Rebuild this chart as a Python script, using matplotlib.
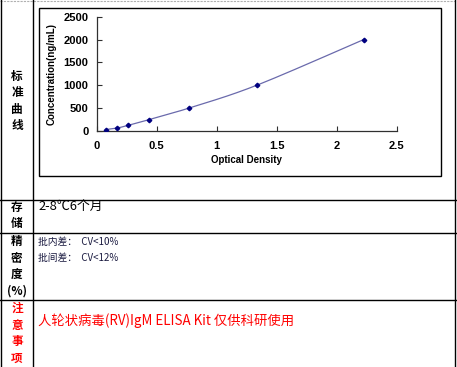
import numpy as np
import matplotlib
matplotlib.use("Agg")
import matplotlib.pyplot as plt
from matplotlib.patches import Rectangle
from matplotlib.lines import Line2D

# ---- data ----
od = [0.075, 0.167, 0.263, 0.438, 0.767, 1.333, 2.225]
conc = [31.25, 62.5, 125, 250, 500, 1000, 2000]
xticks = [0, 0.5, 1, 1.5, 2, 2.5]
yticks = [0, 500, 1000, 1500, 2000, 2500]
xlabel = "Optical Density"
ylabel = "Concentration(ng/mL)"
storage_text = "2-8℃6个月"
precision_lines = ["批内差：  CV<10%", "批间差：  CV<12%"]
note_text = "人轮状病毒(RV)IgM ELISA Kit 仅供科研使用"

W, H = 457, 367
fig = plt.figure(figsize=(W / 100, H / 100), dpi=100)
fig.patch.set_facecolor("white")

def fx(px):
    return px / W

def fy(py):
    return 1 - py / H

cjk = ["Noto Sans CJK SC", "DejaVu Sans"]

# ---- table lines ----
def hline(y, x0, x1, **kw):
    fig.add_artist(Line2D([fx(x0), fx(x1)], [fy(y), fy(y)], transform=fig.transFigure, **kw))

def vline(x, y0, y1, **kw):
    fig.add_artist(Line2D([fx(x), fx(x)], [fy(y0), fy(y1)], transform=fig.transFigure, **kw))

hline(0.8, 0, 457, color="#b0b0b0", lw=0.8, ls=(0, (2, 1)))
for y in [199.5, 233, 300]:
    hline(y, 0, 456, color="black", lw=1.0)
vline(1.2, 0, 367, color="black", lw=1.0)
vline(32.6, 0, 367, color="black", lw=1.0)
vline(455.2, 0, 367, color="black", lw=1.0)

# ---- chart frame ----
fig.add_artist(Rectangle((fx(38.5), fy(176)), fx(441.3) - fx(38.5), fy(7.5) - fy(176),
                         transform=fig.transFigure, fill=False, ec="black", lw=1.0))

# ---- chart axes ----
ax = fig.add_axes([fx(96.7), fy(131), fx(396.7) - fx(96.7), fy(16.7) - fy(131)])
ax.set_facecolor("none")

# smooth curve (Catmull-Rom style, like spreadsheet smoothed line)
px = np.array(od, dtype=float)
py = np.array(conc, dtype=float)
P = np.column_stack([px, py])
Pe = np.vstack([P[0], P, P[-1]])
segs = []
t = np.linspace(0, 1, 30)
for i in range(1, len(Pe) - 2):
    p0, p1, p2, p3 = Pe[i - 1], Pe[i], Pe[i + 1], Pe[i + 2]
    c1 = p1 + (p2 - p0) / 6
    c2 = p2 - (p3 - p1) / 6
    b = ((1 - t) ** 3)[:, None] * p1 + (3 * (1 - t) ** 2 * t)[:, None] * c1 \
        + (3 * (1 - t) * t ** 2)[:, None] * c2 + (t ** 3)[:, None] * p2
    segs.append(b)
curve = np.vstack(segs)
ax.plot(curve[:, 0], curve[:, 1], color="#6a6aac", lw=0.9, zorder=2)
ax.plot(od, conc, ls="none", marker="D", ms=2.3, color="#000080", mec="#000080", zorder=3)

ax.set_xlim(0, 2.5)
ax.set_ylim(0, 2500)
ax.set_xticks(xticks)
ax.set_yticks(yticks)
ax.set_xticklabels([f"{v:g}" for v in xticks], fontfamily="Liberation Sans", fontweight="bold", fontsize=8)
ax.set_yticklabels([f"{v:g}" for v in yticks], fontfamily="Liberation Sans", fontweight="bold", fontsize=8)
ax.tick_params(direction="in", length=3.5, width=0.8, color="#303030", pad=6)
ax.tick_params(axis="x", pad=7)
for s in ["top", "right"]:
    ax.spines[s].set_visible(False)
for s in ["left", "bottom"]:
    ax.spines[s].set_color("#303030")
    ax.spines[s].set_linewidth(0.9)
ax.set_xlabel(xlabel, fontfamily="Liberation Sans", fontweight="bold", fontsize=7, labelpad=3)
ax.set_ylabel(ylabel, fontfamily="Liberation Sans", fontweight="bold", fontsize=7, labelpad=5)

# ---- left column titles ----
def vtitle(chars, ys, color):
    for ch, y in zip(chars, ys):
        fig.text(fx(17), fy(y), ch, ha="center", va="center", fontsize=8.4,
                 fontweight="bold", color=color, family=cjk)

vtitle(["标", "准", "曲", "线"], [76, 92.5, 109, 125.5], "black")
vtitle(["存", "储"], [207, 223], "black")
vtitle(["精", "密", "度", "(%)"], [241.7, 258.3, 275, 291], "black")
vtitle(["注", "意", "事", "项"], [308.3, 325, 341.7, 358.3], "#ff0000")

# ---- right column texts ----
fig.text(fx(38.5), fy(206.5), storage_text, ha="left", va="center", fontsize=9.3,
         color="black", family=cjk)
for txt, y in zip(precision_lines, [241.7, 258.3]):
    fig.text(fx(38.5), fy(y), txt, ha="left", va="center", fontsize=7,
             color="#1a1a40", family=cjk)
fig.text(fx(38.5), fy(320.5), note_text, ha="left", va="center", fontsize=9.6,
         color="#ff0000", family=cjk)

fig.savefig("out.png", dpi=100, facecolor="white")
